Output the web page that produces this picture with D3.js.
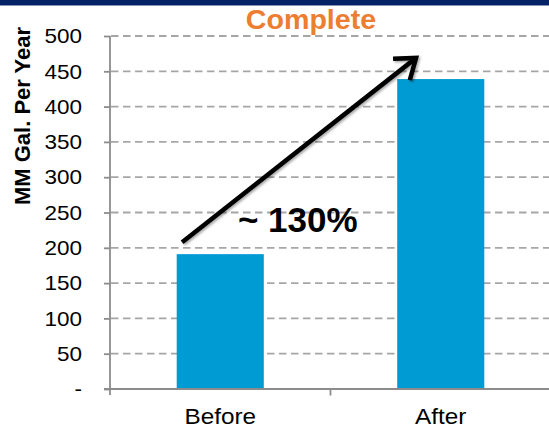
<!DOCTYPE html>
<html>
<head>
<meta charset="utf-8">
<script src="https://cdn.jsdelivr.net/npm/d3@7"></script>
<style>
  html, body { margin: 0; padding: 0; background: #fff; }
  svg { display: block; font-family: "Liberation Sans", Arial, sans-serif; }
</style>
</head>
<body>
<svg id="chart" width="549" height="428"></svg>
<script>
// ---- data ----
const categories = ["Before", "After"];
const values = [191, 439];
const yTicks = [0, 50, 100, 150, 200, 250, 300, 350, 400, 450, 500];
const yTickLabels = ["-", "50", "100", "150", "200", "250", "300", "350", "400", "450", "500"];
const titleText = "Complete";
const yAxisTitle = "MM Gal. Per Year";
const growthLabel = "~ 130%";
// arrow annotation: [category, fraction across band, value]
const arrowFrom = ["Before", 0.327, 208];
const arrowTo = ["After", 0.388, 469];
const labelAt = ["Before", 0.58, 222];

// ---- drawing ----
const svg = d3.select("#chart");
const W = 549, H = 428;

const x = d3.scaleBand().domain(categories).range([110, 551]).padding(0);
const y = d3.scaleLinear().domain([0, 500]).range([389, 36]);
const barFrac = 0.395;

function widen(sel, k) {
  sel.each(function () {
    const len = this.getComputedTextLength();
    d3.select(this).attr("textLength", len * k).attr("lengthAdjust", "spacingAndGlyphs");
  });
}

// top navy band
svg.append("rect").attr("x", 0).attr("y", 0).attr("width", W).attr("height", 5.5).attr("fill", "#062266");

// gridlines
svg.append("g").selectAll("line").data(yTicks.filter(d => d > 0)).join("line")
  .attr("x1", 111).attr("x2", W)
  .attr("y1", d => y(d)).attr("y2", d => y(d))
  .attr("stroke", "#A6A6A6").attr("stroke-width", 1.8)
  .attr("stroke-dasharray", "7.5,4.5");

// bars
svg.append("g").selectAll("rect").data(categories).join("rect")
  .attr("x", d => x(d) + x.bandwidth() * (1 - barFrac) / 2)
  .attr("width", x.bandwidth() * barFrac)
  .attr("y", (d, i) => y(values[i]))
  .attr("height", (d, i) => y(0) - y(values[i]))
  .attr("fill", "#009BD2");

// y axis
const yAxis = d3.axisLeft(y).tickValues(yTicks)
  .tickFormat((d, i) => yTickLabels[i]).tickSize(6).tickPadding(22);
const gy = svg.append("g").attr("transform", "translate(110,0)").call(yAxis);
gy.select(".domain").remove();
gy.selectAll(".tick line").attr("stroke", "#8C8C8C").attr("stroke-width", 1.8);
gy.selectAll(".tick text").attr("font-size", 21).attr("fill", "#000")
  .attr("font-family", "Liberation Sans, Arial, sans-serif");
widen(gy.selectAll(".tick text"), 1.07);
gy.append("line").attr("x1", 0).attr("x2", 0).attr("y1", y(500)).attr("y2", y(0) + 6)
  .attr("stroke", "#8C8C8C").attr("stroke-width", 1.8);

// x axis
const gx = svg.append("g").attr("transform", `translate(0,${y(0)})`);
gx.append("line").attr("x1", 104).attr("x2", W).attr("y1", 0).attr("y2", 0)
  .attr("stroke", "#8C8C8C").attr("stroke-width", 1.8);
gx.selectAll(".sep").data(categories.slice(1)).join("line").attr("class", "sep")
  .attr("x1", d => x(d)).attr("x2", d => x(d)).attr("y1", 0).attr("y2", 6.5)
  .attr("stroke", "#8C8C8C").attr("stroke-width", 1.8);
const xl = gx.selectAll("text").data(categories).join("text")
  .attr("x", d => x(d) + x.bandwidth() / 2)
  .attr("y", 34.5)
  .attr("text-anchor", "middle")
  .attr("font-size", 22.5).attr("fill", "#000")
  .text(d => d);
widen(xl, 1.08);

// y axis title
svg.append("text")
  .attr("transform", `translate(30,${116}) rotate(-90)`)
  .attr("text-anchor", "middle")
  .attr("font-size", 22).attr("font-weight", "bold").attr("fill", "#000")
  .text(yAxisTitle);

// title
const tt = svg.append("text").attr("x", 311).attr("y", 29)
  .attr("text-anchor", "middle")
  .attr("font-size", 27.5).attr("font-weight", "bold").attr("fill", "#ED7D31")
  .text(titleText);
widen(tt, 1.04);

// arrow
const defs = svg.append("defs");
const f = defs.append("filter").attr("id", "sh").attr("x", "-20%").attr("y", "-20%").attr("width", "140%").attr("height", "140%");
f.append("feDropShadow").attr("dx", 1.5).attr("dy", 1.5).attr("stdDeviation", 1.2)
  .attr("flood-color", "#000").attr("flood-opacity", 0.35);

const ax0 = x(arrowFrom[0]) + x.bandwidth() * arrowFrom[1], ay0 = y(arrowFrom[2]);
const ax1 = x(arrowTo[0]) + x.bandwidth() * arrowTo[1], ay1 = y(arrowTo[2]);
const ang = Math.atan2(ay1 - ay0, ax1 - ax0);
const armLen = 23, armAng = 36 * Math.PI / 180;
const hx1 = ax1 - armLen * Math.cos(ang - armAng), hy1 = ay1 - armLen * Math.sin(ang - armAng);
const hx2 = ax1 - armLen * Math.cos(ang + armAng), hy2 = ay1 - armLen * Math.sin(ang + armAng);
const ag = svg.append("g").attr("filter", "url(#sh)");
ag.append("line").attr("x1", ax0).attr("y1", ay0).attr("x2", ax1 - 2 * Math.cos(ang)).attr("y2", ay1 - 2 * Math.sin(ang))
  .attr("stroke", "#000").attr("stroke-width", 4.5);
ag.append("path").attr("d", `M${hx1},${hy1}L${ax1},${ay1}L${hx2},${hy2}`)
  .attr("fill", "none").attr("stroke", "#000").attr("stroke-width", 4.5)
  .attr("stroke-linejoin", "miter");

// growth label
svg.append("text")
  .attr("x", x(labelAt[0]) + x.bandwidth() * labelAt[1])
  .attr("y", y(labelAt[2]))
  .attr("font-size", 35).attr("font-weight", "bold").attr("fill", "#000")
  .text(growthLabel);
</script>
</body>
</html>
